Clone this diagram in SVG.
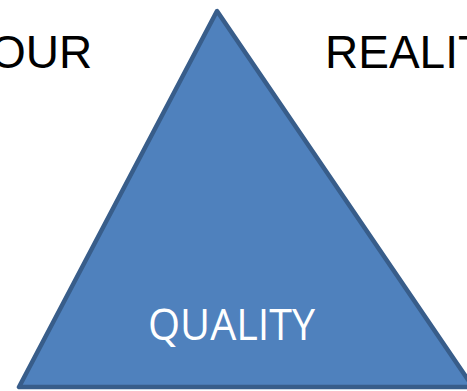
<svg xmlns="http://www.w3.org/2000/svg" width="467" height="391" viewBox="0 0 467 391">
  <style>
    .label { font-family: "Liberation Sans", Arial, sans-serif; font-size: 46px; fill: #000000; }
    .tri { fill: #4F81BD; stroke: #385D8A; stroke-width: 4.5; stroke-linejoin: round; }
    .inner { font-family: "Open Sans", "Liberation Sans", sans-serif; font-size: 44px; fill: #FFFFFF; }
  </style>
  <rect width="467" height="391" fill="#FFFFFF"/>
  <g id="label-left">
    <text class="label" x="-10" y="68">OUR</text>
  </g>
  <g id="label-right">
    <text class="label" x="325" y="68">REALIT</text>
  </g>
  <g id="quality">
    <polygon class="tri" points="217,11 19,387 473,387"/>
    <text class="inner" x="148" y="340" textLength="167" lengthAdjust="spacingAndGlyphs">QUALITY</text>
  </g>
  <g id="connectors"/>
</svg>
